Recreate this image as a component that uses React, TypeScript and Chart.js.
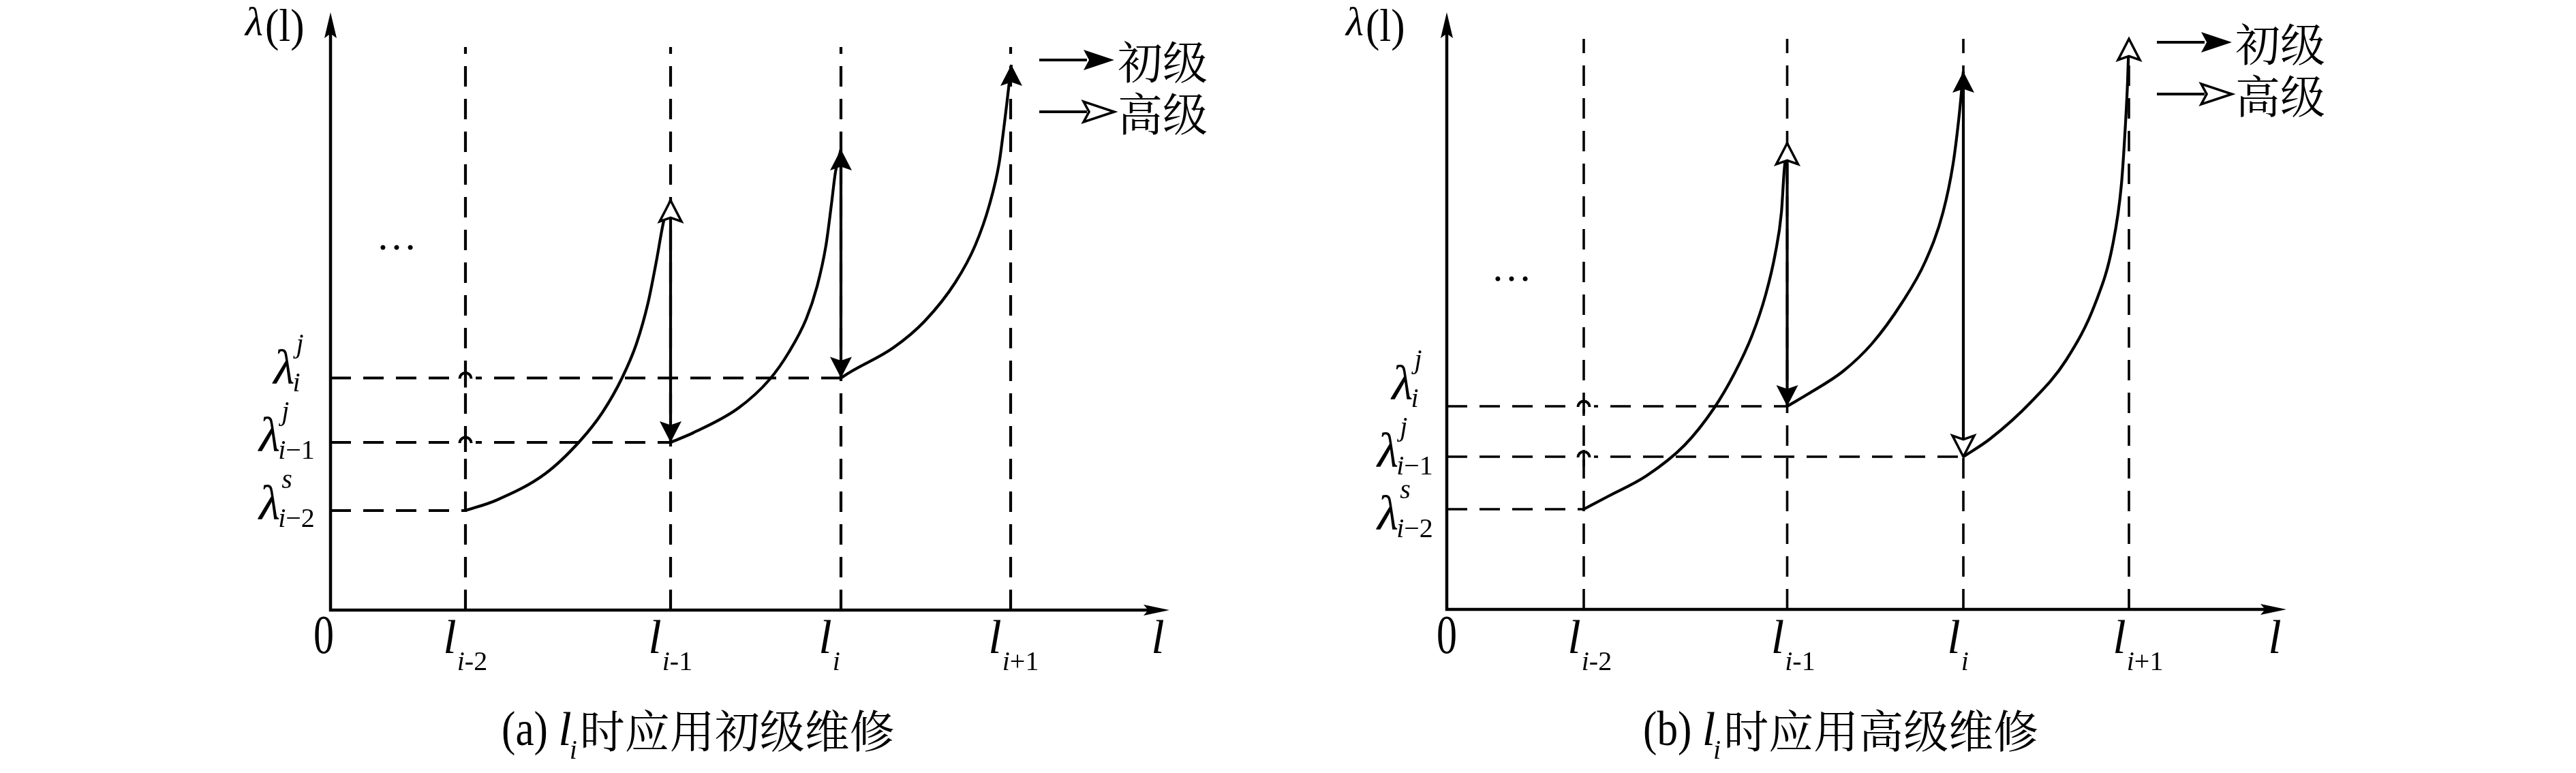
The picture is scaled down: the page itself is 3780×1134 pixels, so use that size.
import React, { useEffect, useRef } from "react";
import { Chart, registerables } from "chart.js";

Chart.register(...registerables);

const PAGE_W = 3780;
const PAGE_H = 1134;
const CANVAS_W = 1890;
const PX_PER_UNIT = 10;

const SERIF = '"Liberation Serif", "Times New Roman", serif';
const CJK = '"Noto Serif CJK SC", "Noto Sans CJK SC", sans-serif';

// ---------- labels ----------
const TICK_SUBS = ["i-2", "i-1", "i", "i+1"];
const LEVEL_SUPS = ["j", "j", "s"];
const LEVEL_SUBS = ["i", "i\u22121", "i\u22122"];
const LEGEND_LABELS = ["初级", "高级"];
const Y_TITLE = ["λ", "(l)"];
const X_TITLE = "l";
const ZERO_LABEL = "0";
const CAPTION_A = ["(a) ", "l", "i", "时应用初级维修"];
const CAPTION_B = ["(b) ", "l", "i", "时应用高级维修"];

// ---------- panel (a) values ----------
const A_CUTS = [19.8, 49.9, 74.9, 99.8];
const A_DASH_TOP = 82.6;
const A_LEVELS = [34.05, 24.6, 14.6]; // λ_i^j, λ_{i-1}^j, λ_{i-2}^s
const A_LEVEL_ENDS = [74.9, 49.9, 19.8];
const A_C1_X = [19.8, 24.3, 31.5, 36.6, 39.9, 42.8, 44.9, 46.6, 47.8, 48.9, 49.9];
const A_C1_Y = [14.6, 16.1, 20.0, 24.8, 29.0, 34.1, 39.1, 45.1, 51.1, 57.1, 60.1];
const A_C2_X = [49.9, 53.2, 59.8, 64.4, 67.3, 69.8, 71.4, 72.7, 73.5, 74.1, 74.9];
const A_C2_Y = [24.6, 26.0, 29.6, 33.8, 37.9, 42.7, 47.5, 53.5, 59.5, 64.3, 67.6];
const A_C3_X = [74.9, 76.4, 82.6, 87.2, 91.7, 94.6, 96.7, 98.1, 98.9, 99.4, 99.9];
const A_C3_Y = [34.05, 35.0, 38.5, 42.4, 48.1, 53.5, 59.5, 65.5, 71.5, 75.7, 80.0];
const A_TOP_HEADS = ["open", "filled", "filled"];
const A_DROP_HEADS = ["filled", "filled"];

// ---------- panel (b) values ----------
const B_CUTS = [20.1, 49.95, 75.8, 100.1];
const B_DASH_TOP = 83.7;
const B_LEVELS = [29.8, 22.4, 14.7]; // λ_i^j, λ_{i-1}^j, λ_{i-2}^s
const B_LEVEL_ENDS = [49.95, 75.8, 20.1];
const B_C1_X = [20.1, 23.7, 29.3, 34.9, 39.2, 42.2, 44.8, 46.8, 48.2, 49.1, 49.5, 49.95];
const B_C1_Y = [14.7, 16.6, 19.6, 24.1, 29.5, 34.6, 40.2, 46.2, 52.2, 58.2, 64.2, 68.4];
const B_C2_X = [49.95, 53.0, 58.1, 62.4, 66.8, 70.2, 72.8, 74.3, 75.2, 75.8];
const B_C2_Y = [29.8, 31.6, 34.9, 39.0, 45.0, 51.0, 58.2, 65.4, 72.6, 78.9];
const B_C3_X = [75.8, 79.7, 85.7, 90.9, 95.2, 97.7, 99.0, 99.6, 99.9, 100.1];
const B_C3_Y = [22.4, 25.0, 30.4, 36.6, 45.0, 53.4, 62.4, 71.4, 77.4, 83.7];
const B_TOP_HEADS = ["open", "filled", "open"];
const B_DROP_HEADS = ["filled", "open"];

type Panel = {
  key: string;
  canvasLeft: number;
  axisX: number;
  originY: number;
  xMax: number;
  yMax: number;
  cuts: number[];
  dashTop: number;
  levels: number[];
  levelEnds: number[];
  curves: number[][][];
  topHeads: string[];
  dropHeads: string[];
  caption: string[];
  tickDx: number;
  zeroDx: number;
  yTitleDx: number;
  levelDy: number[];
  subCenterDx: number;
  legendDx: number;
  legendY: number[];
  captionDx: number;
  dotsDx: number;
  dotsY: number;
  dashWidth: number;
};

const PANELS: Panel[] = [
  {
    key: "a",
    canvasLeft: 0,
    axisX: 485,
    originY: 895,
    xMax: 123.1,
    yMax: 87.7,
    cuts: A_CUTS,
    dashTop: A_DASH_TOP,
    levels: A_LEVELS,
    levelEnds: A_LEVEL_ENDS,
    curves: [
      [A_C1_X, A_C1_Y],
      [A_C2_X, A_C2_Y],
      [A_C3_X, A_C3_Y],
    ],
    topHeads: A_TOP_HEADS,
    dropHeads: A_DROP_HEADS,
    caption: CAPTION_A,
    tickDx: -23,
    zeroDx: -10,
    yTitleDx: -125,
    levelDy: [8, 13, 13],
    subCenterDx: -50,
    legendDx: 1040,
    legendY: [88, 164],
    captionDx: 251,
    dotsDx: 97,
    dotsY: 360,
    dashWidth: 4.2,
  },
  {
    key: "b",
    canvasLeft: 1890,
    axisX: 2123,
    originY: 894,
    xMax: 123.2,
    yMax: 87.6,
    cuts: B_CUTS,
    dashTop: B_DASH_TOP,
    levels: B_LEVELS,
    levelEnds: B_LEVEL_ENDS,
    curves: [
      [B_C1_X, B_C1_Y],
      [B_C2_X, B_C2_Y],
      [B_C3_X, B_C3_Y],
    ],
    topHeads: B_TOP_HEADS,
    dropHeads: B_DROP_HEADS,
    caption: CAPTION_B,
    tickDx: -14,
    zeroDx: 0,
    yTitleDx: -148,
    levelDy: [-10, 15, 30],
    subCenterDx: -47,
    legendDx: 1042,
    legendY: [62, 138],
    captionDx: 288,
    dotsDx: 95,
    dotsY: 406,
    dashWidth: 3.6,
  },
];

function head(
  ctx: CanvasRenderingContext2D,
  x: number,
  y: number,
  dx: number,
  dy: number,
  len: number,
  hw: number,
  filled: boolean
) {
  const px = -dy;
  const py = dx;
  const bx = x - dx * len;
  const by = y - dy * len;
  const nx = x - dx * len * 0.82;
  const ny = y - dy * len * 0.82;
  ctx.beginPath();
  ctx.moveTo(x, y);
  ctx.lineTo(bx + px * hw, by + py * hw);
  ctx.lineTo(nx, ny);
  ctx.lineTo(bx - px * hw, by - py * hw);
  ctx.closePath();
  if (filled) {
    ctx.fillStyle = "#000";
    ctx.fill();
  } else {
    ctx.fillStyle = "#fff";
    ctx.fill();
    ctx.lineWidth = 3.5;
    ctx.lineJoin = "miter";
    ctx.strokeStyle = "#000";
    ctx.stroke();
  }
  ctx.fillStyle = "#000";
}

// draws "i-2" style subscript: first letter italic, rest upright
function drawSub(ctx: CanvasRenderingContext2D, s: string, x: number, y: number, size: number) {
  const first = s.charAt(0);
  const rest = s.slice(1);
  ctx.font = `italic ${size}px ${SERIF}`;
  ctx.fillText(first, x, y);
  const w1 = ctx.measureText(first).width;
  ctx.font = `${size}px ${SERIF}`;
  ctx.fillText(rest, x + w1, y);
  return w1 + ctx.measureText(rest).width;
}
function subWidth(ctx: CanvasRenderingContext2D, s: string, size: number) {
  ctx.font = `italic ${size}px ${SERIF}`;
  const w1 = ctx.measureText(s.charAt(0)).width;
  ctx.font = `${size}px ${SERIF}`;
  return w1 + ctx.measureText(s.slice(1)).width;
}

function annotate(p: Panel) {
  return {
    id: "annot" + p.key,
    afterDatasetsDraw(chart: any) {
      const ctx: CanvasRenderingContext2D = chart.ctx;
      const sx = chart.scales.x;
      const sy = chart.scales.y;
      const X = (v: number) => sx.getPixelForValue(v);
      const Y = (v: number) => sy.getPixelForValue(v);
      const ax = X(0);
      const ay = Y(0);
      const ex = X(p.xMax);
      const ty = Y(p.yMax);
      ctx.save();
      ctx.strokeStyle = "#000";
      ctx.fillStyle = "#000";
      ctx.lineCap = "butt";

      // axes
      ctx.lineWidth = 4.5;
      ctx.beginPath();
      ctx.moveTo(ax - 2, ay);
      ctx.lineTo(ex - 30, ay);
      ctx.stroke();
      ctx.beginPath();
      ctx.moveTo(ax, ay + 2);
      ctx.lineTo(ax, ty + 30);
      ctx.stroke();
      head(ctx, ex, ay, 1, 0, 38, 8, true);
      head(ctx, ax, ty, 0, -1, 38, 9, true);

      // line hops where the upper level lines cross the first cut
      [0, 1].forEach((k) => {
        const hx = X(p.cuts[0]);
        const hy = Y(p.levels[k]);
        ctx.fillStyle = "#fff";
        ctx.fillRect(hx - 15, hy - 4, 30, 8);
        ctx.fillStyle = "#000";
        ctx.strokeStyle = "#000";
        ctx.lineWidth = 4;
        ctx.beginPath();
        ctx.arc(hx, hy + 1, 8.5, Math.PI, 0);
        ctx.stroke();
        ctx.lineWidth = p.dashWidth;
        ctx.beginPath();
        ctx.moveTo(hx, hy - 10);
        ctx.lineTo(hx, hy + 14);
        ctx.stroke();
      });

      // arrow heads on curve tops and drop bottoms
      p.curves.forEach(([xs, ys], i) => {
        const tx = X(xs[xs.length - 1]);
        const tyy = Y(ys[ys.length - 1]);
        head(ctx, tx, tyy, 0, -1, 31, 16, p.topHeads[i] === "filled");
        if (i < p.curves.length - 1) {
          const [nx, ny] = p.curves[i + 1];
          head(ctx, X(nx[0]), Y(ny[0]), 0, 1, 31, 16, p.dropHeads[i] === "filled");
        }
      });

      ctx.fillStyle = "#000";
      ctx.textAlign = "left";
      ctx.textBaseline = "alphabetic";

      // y title λ(l)
      const tx0 = ax + p.yTitleDx;
      ctx.font = `italic 60px ${SERIF}`;
      ctx.fillText(Y_TITLE[0], tx0, 52);
      const lw = ctx.measureText(Y_TITLE[0]).width;
      ctx.save();
      ctx.translate(tx0 + lw + 3, 60);
      ctx.scale(0.9, 1);
      ctx.font = `68px ${SERIF}`;
      ctx.fillText(Y_TITLE[1], 0, 0);
      ctx.restore();

      // zero label
      ctx.save();
      ctx.translate(ax + p.zeroDx, 958);
      ctx.scale(0.75, 1);
      ctx.font = `80px ${SERIF}`;
      ctx.textAlign = "center";
      ctx.fillText(ZERO_LABEL, 0, 0);
      ctx.restore();

      // x tick labels l_{...}
      p.cuts.forEach((c, k) => {
        const cx = X(c) + p.tickDx;
        ctx.font = `italic 70px ${SERIF}`;
        const w = ctx.measureText("l").width;
        ctx.fillText("l", cx - w / 2, 958);
        drawSub(ctx, TICK_SUBS[k], cx + w / 2 + 1, 983, 40);
      });

      // x title
      ctx.font = `italic 70px ${SERIF}`;
      const xw = ctx.measureText(X_TITLE).width;
      ctx.fillText(X_TITLE, ex - 17 - xw / 2, 958);

      // level labels λ
      p.levels.forEach((lv, k) => {
        const base = Y(lv) + p.levelDy[k];
        const sw = subWidth(ctx, LEVEL_SUBS[k], 40);
        const subLeft = ax + p.subCenterDx - sw / 2;
        ctx.font = `italic 72px ${SERIF}`;
        const lamW = ctx.measureText("λ").width;
        ctx.fillText("λ", subLeft + 3 - lamW, base);
        drawSub(ctx, LEVEL_SUBS[k], subLeft, base + 11, 40);
        ctx.font = `italic 40px ${SERIF}`;
        ctx.fillText(LEVEL_SUPS[k], subLeft + 5, base - 46);
      });

      // ellipsis
      ctx.font = `60px ${SERIF}`;
      ctx.textAlign = "center";
      ctx.fillText("…", ax + p.dotsDx, p.dotsY + 6);
      ctx.textAlign = "left";

      // legend
      LEGEND_LABELS.forEach((lab, k) => {
        const x0 = ax + p.legendDx;
        const yy = p.legendY[k];
        const tip = x0 + 110;
        ctx.strokeStyle = "#000";
        ctx.lineWidth = 4;
        ctx.beginPath();
        ctx.moveTo(x0, yy);
        ctx.lineTo(tip - 40, yy);
        ctx.stroke();
        head(ctx, tip, yy, 1, 0, 45, 15, k === 0);
        ctx.fillStyle = "#000";
        ctx.font = `66px ${CJK}`;
        ctx.textBaseline = "middle";
        ctx.fillText(lab, tip + 5, yy + 3);
        ctx.textBaseline = "alphabetic";
      });

      // caption
      let cx = ax + p.captionDx;
      const cb = 1093;
      ctx.save();
      ctx.translate(cx, cb);
      ctx.scale(0.85, 1);
      ctx.font = `72px ${SERIF}`;
      ctx.fillText(p.caption[0], 0, 0);
      const w0 = ctx.measureText(p.caption[0]).width * 0.85;
      ctx.restore();
      cx += w0;
      ctx.font = `italic 70px ${SERIF}`;
      ctx.fillText(p.caption[1], cx, cb);
      cx += ctx.measureText(p.caption[1]).width;
      ctx.font = `italic 40px ${SERIF}`;
      ctx.fillText(p.caption[2], cx - 3, cb + 20);
      cx += ctx.measureText(p.caption[2]).width;
      ctx.font = `66px ${CJK}`;
      ctx.fillText(p.caption[3], cx + 1, cb + 4);

      ctx.restore();
    },
  };
}

function makeConfig(p: Panel): any {
  const datasets: any[] = [];
  const dashed = {
    borderColor: "#000",
    borderWidth: p.dashWidth,
    borderDash: [30, 18],
    pointRadius: 0,
    showLine: true,
    fill: false,
    clip: false,
  };
  p.cuts.forEach((c) =>
    datasets.push({ ...dashed, data: [{ x: c, y: 0 }, { x: c, y: p.dashTop }] })
  );
  p.levels.forEach((lv, i) =>
    datasets.push({ ...dashed, data: [{ x: 0, y: lv }, { x: p.levelEnds[i], y: lv }] })
  );
  p.curves.forEach(([xs, ys]) =>
    datasets.push({
      borderColor: "#000",
      borderWidth: 4.2,
      pointRadius: 0,
      showLine: true,
      fill: false,
      clip: false,
      cubicInterpolationMode: "monotone",
      data: xs.map((x, i) => ({ x, y: ys[i] })),
    })
  );
  for (let i = 0; i < p.curves.length - 1; i++) {
    const [xs, ys] = p.curves[i];
    const [nx, ny] = p.curves[i + 1];
    datasets.push({
      borderColor: "#000",
      borderWidth: 4.2,
      pointRadius: 0,
      showLine: true,
      fill: false,
      clip: false,
      data: [
        { x: xs[xs.length - 1], y: ys[ys.length - 1] },
        { x: nx[0], y: ny[0] },
      ],
    });
  }
  const left = p.axisX - p.canvasLeft;
  const right = CANVAS_W - left - p.xMax * PX_PER_UNIT;
  const top = p.originY - p.yMax * PX_PER_UNIT;
  const bottom = PAGE_H - p.originY;
  return {
    type: "scatter",
    data: { datasets },
    options: {
      responsive: false,
      maintainAspectRatio: false,
      animation: false,
      devicePixelRatio: 1,
      events: [],
      layout: { padding: { left, right, top, bottom } },
      scales: {
        x: { type: "linear", min: 0, max: p.xMax, display: false },
        y: { type: "linear", min: 0, max: p.yMax, display: false },
      },
      plugins: {
        legend: { display: false },
        tooltip: { enabled: false },
        title: { display: false },
      },
    },
    plugins: [annotate(p)],
  };
}

function PanelChart({ p }: { p: Panel }) {
  const ref = useRef<HTMLCanvasElement>(null);
  useEffect(() => {
    if (!ref.current) return;
    const chart = new Chart(ref.current, makeConfig(p));
    return () => chart.destroy();
  }, [p]);
  return (
    <canvas
      ref={ref}
      width={CANVAS_W}
      height={PAGE_H}
      style={{
        position: "absolute",
        left: p.canvasLeft,
        top: 0,
        width: CANVAS_W,
        height: PAGE_H,
      }}
    />
  );
}

export default function App() {
  return (
    <div
      style={{
        position: "fixed",
        left: 0,
        top: 0,
        width: PAGE_W,
        height: PAGE_H,
        background: "#fff",
        overflow: "hidden",
      }}
    >
      {PANELS.map((p) => (
        <PanelChart key={p.key} p={p} />
      ))}
    </div>
  );
}
